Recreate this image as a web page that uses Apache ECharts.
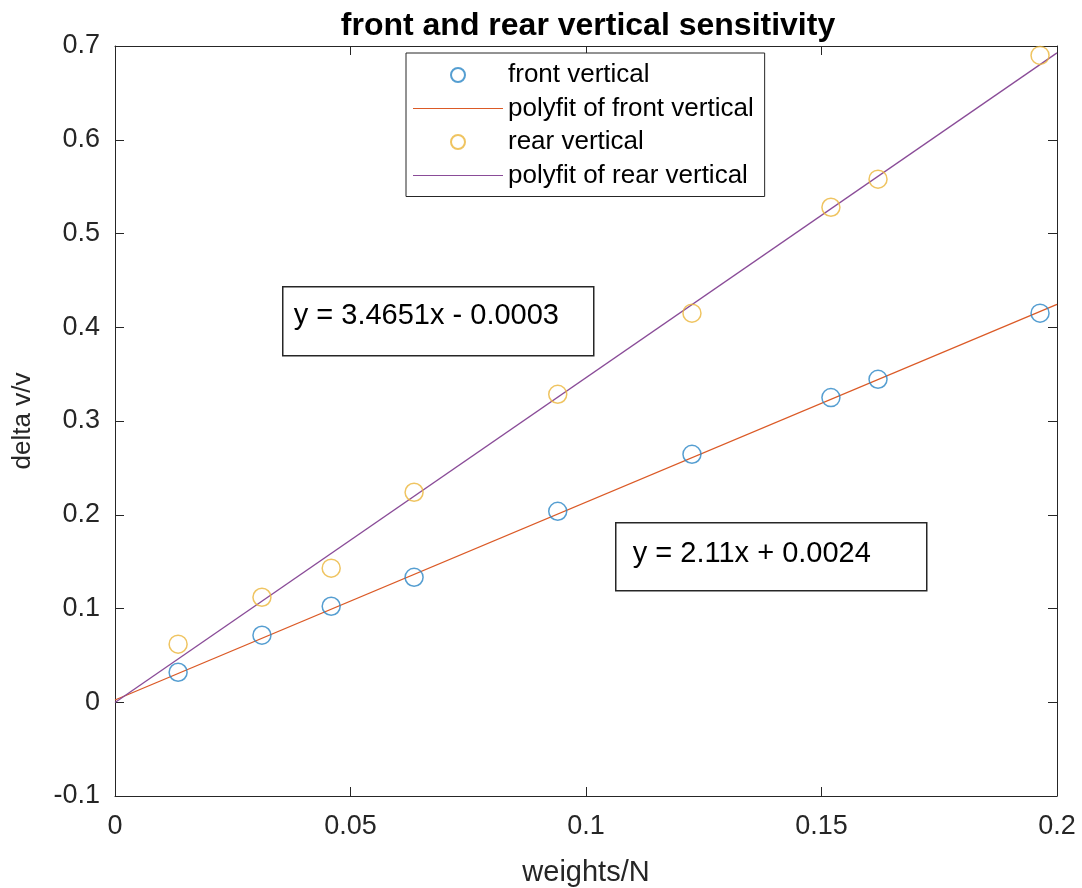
<!DOCTYPE html>
<html>
<head>
<meta charset="utf-8">
<title>front and rear vertical sensitivity</title>
<script src="https://cdn.jsdelivr.net/npm/echarts@6/dist/echarts.min.js"></script>
<style>
    html, body { margin: 0; padding: 0; background: #fff; }
    #main { width: 1082px; height: 888px; }
</style>
</head>
<body>
<div id="main"></div>
<script>
// weights (N) for each measurement
var weights = [0.0134, 0.0312, 0.0459, 0.0635, 0.0940, 0.1225, 0.1520, 0.1620, 0.1964];
// delta v/v, front and rear sensors
var frontVertical = [0.032, 0.0715, 0.1024, 0.1333, 0.2037, 0.2645, 0.325, 0.3445, 0.415];
var rearVertical = [0.062, 0.112, 0.143, 0.224, 0.3285, 0.415, 0.528, 0.558, 0.690];
// polyfit lines (end points)
var frontFit = [[0, 0.0024], [0.2, 0.4244]];
var rearFit = [[0, -0.0003], [0.2, 0.6927]];
var frontEq = 'y = 2.11x + 0.0024';
var rearEq = 'y = 3.4651x - 0.0003';

var fontName = '"Liberation Sans", Arial, sans-serif';
var axisColor = '#262626';
var blue = '#2a86c6', orange = '#db5a26', yellow = '#ebb53a', purple = '#8a4c98';
var lineIcon = 'path://M0,0L90,0L90,1L0,1Z';

function pairs(xs, ys) {
    var out = [];
    for (var i = 0; i < xs.length; i++) {
        out.push([xs[i], ys[i]]);
    }
    return out;
}

var myChart = echarts.init(document.getElementById('main'));

var tickStyle = {show: true, inside: true, length: 9, lineStyle: {color: axisColor, width: 1}};
var lineAxis = {show: true, onZero: false, lineStyle: {color: axisColor, width: 1}};

option = {
    backgroundColor: '#fff',
    animation: false,
    textStyle: {fontFamily: fontName},
    title: {
        text: 'front and rear vertical sensitivity',
        left: 583,
        textAlign: 'center',
        top: 5,
        textStyle: {fontSize: 32, fontWeight: 'bold', color: '#000', fontFamily: fontName}
    },
    grid: {left: 115, right: 25, top: 46, bottom: 92, containLabel: false, outerBoundsMode: 'none'},
    legend: {
        orient: 'vertical',
        left: 406,
        top: 53,
        padding: [9, 11, 8, 7],
        itemWidth: 90,
        itemHeight: 14,
        itemGap: 7.5,
        backgroundColor: '#fff',
        borderColor: axisColor,
        borderWidth: 1,
        textStyle: {fontSize: 26, color: '#000', fontFamily: fontName},
        data: [
            {name: 'front vertical'},
            {name: 'polyfit of front vertical', icon: lineIcon,
                itemStyle: {color: orange, borderColor: orange, borderWidth: 0}},
            {name: 'rear vertical'},
            {name: 'polyfit of rear vertical', icon: lineIcon,
                itemStyle: {color: purple, borderColor: purple, borderWidth: 0}}
        ]
    },
    xAxis: [{
        type: 'value',
        min: 0,
        max: 0.2,
        interval: 0.05,
        name: 'weights/N',
        nameLocation: 'middle',
        nameGap: 62,
        nameTextStyle: {fontSize: 29, color: axisColor, fontFamily: fontName},
        axisLine: lineAxis,
        axisTick: tickStyle,
        axisLabel: {fontSize: 27, color: axisColor, margin: 17, fontFamily: fontName},
        splitLine: {show: false}
    }, {
        type: 'value',
        position: 'top',
        min: 0,
        max: 0.2,
        interval: 0.05,
        axisLine: lineAxis,
        axisTick: tickStyle,
        axisLabel: {show: false},
        splitLine: {show: false}
    }],
    yAxis: [{
        type: 'value',
        min: -0.1,
        max: 0.7,
        interval: 0.1,
        name: 'delta v/v',
        nameLocation: 'middle',
        nameGap: 79,
        nameTextStyle: {fontSize: 26, color: axisColor, fontFamily: fontName},
        axisLine: lineAxis,
        axisTick: tickStyle,
        axisLabel: {fontSize: 27, color: axisColor, margin: 15, fontFamily: fontName},
        splitLine: {show: false}
    }, {
        type: 'value',
        position: 'right',
        min: -0.1,
        max: 0.7,
        interval: 0.1,
        axisLine: lineAxis,
        axisTick: tickStyle,
        axisLabel: {show: false},
        splitLine: {show: false}
    }],
    series: [
        {
            name: 'front vertical',
            type: 'scatter',
            symbol: 'circle',
            symbolSize: 18,
            itemStyle: {color: 'rgba(255,255,255,0)', borderColor: blue, borderWidth: 1.5},
            data: pairs(weights, frontVertical),
            z: 3
        },
        {
            name: 'polyfit of front vertical',
            type: 'line',
            symbol: 'none',
            color: orange,
            itemStyle: {color: orange},
            lineStyle: {color: orange, width: 1.3},
            data: frontFit,
            z: 2
        },
        {
            name: 'rear vertical',
            type: 'scatter',
            symbol: 'circle',
            symbolSize: 18,
            itemStyle: {color: 'rgba(255,255,255,0)', borderColor: yellow, borderWidth: 1.5},
            data: pairs(weights, rearVertical),
            z: 3
        },
        {
            name: 'polyfit of rear vertical',
            type: 'line',
            symbol: 'none',
            color: purple,
            itemStyle: {color: purple},
            lineStyle: {color: purple, width: 1.3},
            data: rearFit,
            z: 2
        }
    ],
    graphic: [
        {
            type: 'group',
            left: 282,
            top: 286,
            children: [
                {type: 'rect', shape: {x: 0, y: 0, width: 311, height: 69},
                    style: {fill: '#fff', stroke: axisColor, lineWidth: 1.5}},
                {type: 'text', x: 11, y: 29,
                    style: {text: rearEq, fontSize: 29, fill: '#000', fontFamily: fontName, verticalAlign: 'middle'}}
            ]
        },
        {
            type: 'group',
            left: 615,
            top: 522,
            children: [
                {type: 'rect', shape: {x: 0, y: 0, width: 311, height: 68},
                    style: {fill: '#fff', stroke: axisColor, lineWidth: 1.5}},
                {type: 'text', x: 17, y: 31,
                    style: {text: frontEq, fontSize: 29, fill: '#000', fontFamily: fontName, verticalAlign: 'middle'}}
            ]
        }
    ]
};

myChart.setOption(option);
</script>
</body>
</html>
